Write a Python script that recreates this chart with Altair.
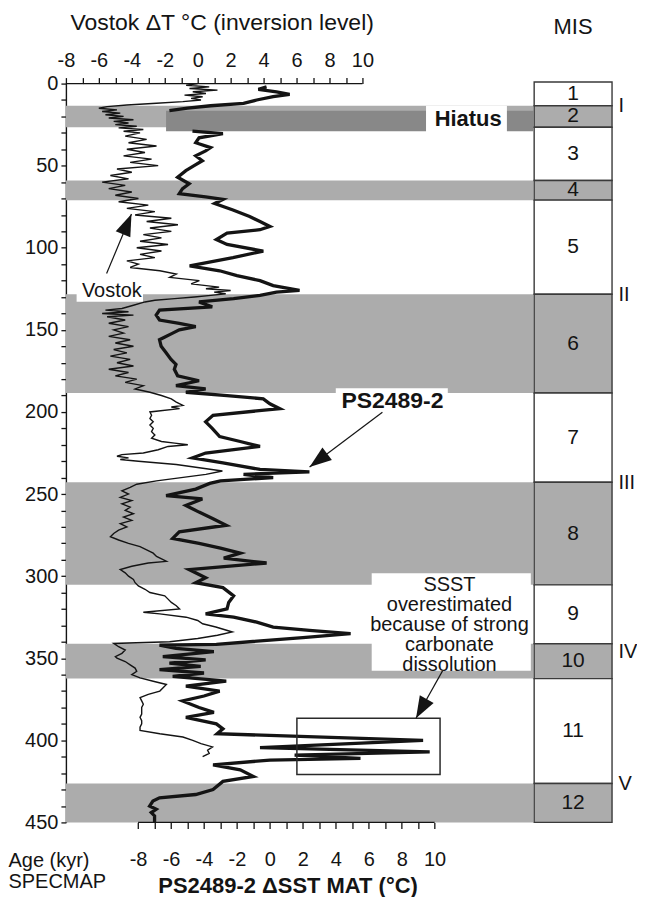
import math
import altair as alt
import pandas as pd

FONT = "Liberation Sans"
INK = "#141414"
BAND = "#acacac"
DARK = "#888888"

# ---------------- data ----------------
# Vostok dT (inversion level), deg C, against SPECMAP age (kyr)
vostok_age = [
    0, 1, 2, 3, 4, 5, 6, 7, 8, 9,
    10, 11, 12, 13, 14, 15, 16, 17, 18, 19,
    20, 21, 22, 23, 24, 25, 26, 27, 28, 29,
    30, 32, 34, 36, 38, 40, 42, 44, 46, 48,
    50, 52, 54, 56, 58, 60, 62, 64, 66, 68,
    70, 72, 74, 76, 78, 80, 82, 84, 86, 88,
    90, 92, 94, 96, 98, 100, 102, 104, 106, 108,
    110, 112, 114, 116, 118, 120, 122, 124, 125, 126,
    127, 128, 129, 130, 131, 132, 133, 135, 137, 138,
    139, 140, 141, 142, 144, 146, 148, 150, 152, 154,
    156, 158, 160, 162, 164, 166, 168, 170, 172, 174,
    176, 178, 180, 182, 184, 186, 188, 190, 192, 194,
    196, 197, 198, 200, 202, 204, 206, 208, 210, 212,
    214, 216, 218, 219, 220, 221, 223, 225, 226, 227,
    228, 229, 230, 232, 234, 236, 238, 240, 242, 244,
    246, 248, 250, 252, 254, 256, 258, 260, 262, 264,
    266, 268, 270, 272, 274, 276, 278, 280, 282, 284,
    286, 288, 290, 291, 292, 294, 296, 298, 300, 302,
    304, 306, 308, 310, 312, 314, 316, 318, 320, 322,
    323, 325, 327, 329, 331, 334, 336, 338, 340, 341,
    343, 345, 347, 349, 350, 352, 354, 356, 358, 360,
    362, 364, 366, 368, 370, 372, 374, 376, 378, 380,
    382, 384, 386, 388, 390, 392, 394, 396, 398, 400,
    402, 404, 406, 408, 410,
]
vostok_dt = [
    0.0, -0.7, 0.7, -0.5, 1.2, -0.3, 0.5, -0.8, 0.3, -0.4,
    0.2, -0.9, -2.5, -4.3, -5.5, -6.0, -4.9, -5.8, -4.7, -5.6,
    -4.5, -5.4, -3.9, -5.1, -4.2, -5.0, -3.7, -4.8, -3.3, -4.5,
    -3.5, -4.4, -3.1, -4.2, -2.5, -4.3, -3.2, -4.5, -2.8, -4.1,
    -2.4, -4.9, -4.0, -5.3, -4.2, -5.8, -4.4, -5.4, -4.0, -5.0,
    -3.6, -4.8, -3.0, -4.3, -2.6, -3.8, -1.6, -3.1, -1.2, -2.9,
    -1.6, -3.3, -2.2, -3.5, -1.8, -3.7, -2.2, -3.5, -2.6, -4.3,
    -3.6, -4.1, -2.3, -1.3, -1.7, 0.1, -0.4, 1.3, 0.5, 2.0,
    1.0, 1.7, 0.8, -0.2, -1.4, -2.6, -3.2, -3.9, -4.6, -5.6,
    -4.2, -5.8, -3.9, -5.5, -4.4, -5.4, -4.2, -5.1, -4.5, -5.4,
    -4.1, -5.0, -3.9, -5.1, -4.3, -5.3, -4.1, -4.9, -3.9, -5.4,
    -4.2, -5.0, -3.7, -4.4, -3.3, -3.8, -2.9, -2.2, -1.6, -1.3,
    -0.9, -1.6, -1.1, -2.9, -2.8, -2.9, -2.7, -2.9, -2.7, -2.8,
    -2.6, -2.8, -2.2, -1.4, -0.6, -1.8, -2.4, -3.3, -4.6, -4.9,
    -4.2, -4.7, -3.6, -1.3, 0.1, 1.5, 0.5, -1.0, -2.5, -3.7,
    -4.1, -4.6, -4.2, -4.7, -4.0, -4.6, -4.1, -4.4, -3.9, -4.5,
    -4.0, -4.7, -4.3, -4.8, -5.1, -5.3, -4.8, -4.2, -3.5, -3.1,
    -2.7, -2.5, -2.1, -1.9, -3.0, -4.0, -4.7, -4.4, -4.2, -3.9,
    -3.8, -3.6, -3.2, -2.9, -2.0, -1.8, -1.6, -1.3, -1.1, -3.3,
    -2.3, -0.7, 0.0, 0.3, 1.1, 2.1, 1.2, 0.0, -1.7, -5.1,
    -4.8, -4.4, -4.6, -5.0, -4.9, -4.4, -4.1, -3.8, -3.7, -4.0,
    -3.5, -2.7, -1.9, -2.1, -2.3, -3.0, -3.5, -3.4, -3.3, -3.4,
    -3.4, -3.4, -3.5, -3.4, -3.4, -3.5, -3.5, -2.3, -0.9, -0.3,
    0.2, 0.9, 0.6, 0.7, 0.3,
]

# PS2489-2 dSST (MAT), deg C, against SPECMAP age (kyr); no samples in the hiatus
ps_age = [
    2, 3.5, 5, 6.5, 8, 10, 12, 13.5, 15, 16.5,
    29, 30.5, 33, 36, 39, 41, 44, 47, 50, 53,
    57, 61, 64, 67, 69, 70.5, 73, 77, 81, 84,
    87, 89, 91, 95, 98, 102, 106, 111, 114, 117,
    120, 123, 126, 127, 129, 131, 133, 136, 138, 141,
    144, 146, 148, 150, 152, 156, 160, 164, 168, 171,
    174, 178, 181, 184, 186, 188, 190, 192, 195, 198,
    202, 206, 210, 215, 218, 221, 225, 228, 231, 235,
    236.5, 238, 240, 242, 243.5, 247, 251, 253, 257, 261,
    265, 269, 273, 277, 280, 283, 286, 289, 292, 296,
    301, 304, 307, 312, 316, 320, 323, 325, 328, 331,
    333, 335, 337.5, 341.5, 342, 344, 346, 349, 351, 353,
    355, 357, 359, 361, 364, 367, 370, 373, 376, 380,
    383, 386, 390, 393, 396, 400, 404.5, 407, 409, 411,
    412, 415, 418, 422, 425, 430, 433, 435, 437, 440,
    442, 444, 446, 450,
]
ps_sst = [
    -0.2, -0.7, 0.4, 1.2, 0.2, -0.8, -1.6, -3.6, -5.0, -6.1,
    -4.7, -2.85, -4.3, -4.5, -3.6, -3.9, -4.5, -4.1, -4.6, -5.1,
    -5.6, -4.9, -5.3, -5.5, -3.9, -2.85, -3.35, -2.24, -1.23, -0.6,
    0.0, -0.6, -2.6, -3.25, -2.6, -0.4, -2.24, -4.87, -3.05, -2.0,
    -0.6, 0.2, 1.8, 0.4, -0.6, -2.2, -4.3, -3.5, -6.7, -6.9,
    -6.7, -5.5, -4.5, -5.5, -5.9, -6.7, -6.6, -6.3, -6.0, -5.7,
    -5.8, -5.6, -4.3, -5.7, -3.9, -5.1, -2.6, -0.4, 0.0, 0.6,
    -3.45, -3.9, -3.5, -3.05, -1.8, -0.6, -3.9, -4.7, -2.85, -0.6,
    2.4, -1.6, 0.2, -3.0, -3.65, -4.5, -6.3, -4.1, -5.1, -4.3,
    -3.45, -2.65, -5.5, -5.9, -4.3, -3.0, -1.8, -2.8, -0.2, -4.9,
    -3.9, -4.5, -2.85, -2.2, -2.5, -2.6, -3.9, -2.2, -0.8, 0.2,
    2.4, 4.9, 2.0, -3.25, -6.7, -5.7, -3.4, -6.5, -3.9, -6.1,
    -4.2, -6.7, -4.0, -5.9, -2.65, -5.1, -3.05, -4.0, -5.3, -4.3,
    -3.4, -5.1, -3.25, -2.85, -3.2, 9.3, -0.6, 9.7, 1.5, 5.5,
    0.0, -3.45, -1.8, -1.0, -2.85, -3.45, -4.5, -6.7, -7.1, -7.3,
    -6.9, -7.2, -7.0, -7.0,
]
hiatus_ages = [16.5, 29.0]

# Marine isotope stages (SPECMAP boundaries, kyr)
mis_stage = [1, 2, 3, 4, 5, 6, 7, 8, 9, 10, 11, 12]
mis_top = [-1.0, 13.5, 26.6, 59.0, 71.0, 128.3, 188.5, 242.8, 305.3, 341.2, 362.4, 426.3]
mis_bottom = [13.5, 26.6, 59.0, 71.0, 128.3, 188.5, 242.8, 305.3, 341.2, 362.4, 426.3, 450.0]
term_names = ["I", "II", "III", "IV", "V"]
term_age = [13.5, 128.3, 242.8, 346.0, 426.3]

assert len(vostok_age) == len(vostok_dt)
assert len(ps_age) == len(ps_sst)

# ---------------- layout ----------------
W, H, MIS_W = 468, 740, 78
PX_UNIT = 16.5
PX_KYR = H / 450.0
top_lo = -8.0
top_hi = top_lo + W / PX_UNIT
bot_lo = -8.0 - 72.3 / PX_UNIT
bot_hi = bot_lo + W / PX_UNIT

ysc = alt.Scale(domain=[0, 450], reverse=True, nice=False, zero=False)
xt = alt.Scale(domain=[top_lo, top_hi], nice=False, zero=False)
xb = alt.Scale(domain=[bot_lo, bot_hi], nice=False, zero=False)
TICKS = list(range(-8, 11))
EVEN = "datum.value % 2 == 0 ? '' + datum.value : ''"

Y_AXIS = alt.Axis(
    orient="left",
    values=list(range(0, 451, 10)), labelExpr="datum.value % 50 == 0 ? '' + datum.value : ''",
    tickSize=5, tickWidth=1.3, domainWidth=1.4, grid=False, labelFontSize=20, labelPadding=3,
    labelOverlap=False, labelFlush=False,
    title=["Age (kyr)", "SPECMAP"], titleAngle=0, titleAlign="left", titleBaseline="top",
    titleX=-58, titleY=768, titleFontSize=20, titleFontWeight="normal", titleLineHeight=21)


def yq(f):
    # every layer carries the identical y axis so the shared axis merges cleanly
    return alt.Y(f, type="quantitative", scale=ysc, axis=Y_AXIS)


def xq(f, sc):
    return alt.X(f, type="quantitative", scale=sc, axis=None)


def ang(x0, a0, x1, a1):
    dx = (x1 - x0) * PX_UNIT
    dy = (a1 - a0) * PX_KYR
    return math.degrees(math.atan2(dx, -dy)) % 360


ARROW = "M0,0L0.36,1L-0.36,1Z"

vos = pd.DataFrame({"age": vostok_age, "dt": vostok_dt})
ps = pd.DataFrame({"age": ps_age, "sst": ps_sst})
ps["seg"] = (ps["age"] > hiatus_ages[0]).astype(int)
mis = pd.DataFrame({"stage": mis_stage, "top": mis_top, "bottom": mis_bottom})
mis["label"] = mis["stage"].astype(str)
mis["mid"] = (mis["top"] + mis["bottom"]) / 2
mis["glacial"] = mis["stage"] % 2 == 0
bands_df = mis[mis["glacial"]]

# ---------- Vostok scale (top axis) ----------
bands = alt.Chart(bands_df).mark_rect(color=BAND).encode(
    x=alt.value(0), x2=alt.value(W), y=yq("top"), y2="bottom:Q")

hiatus_bar = alt.Chart(pd.DataFrame({"x0": [-1.92], "x1": [top_hi], "a0": [hiatus_ages[0]], "a1": [hiatus_ages[1]]})).mark_rect(
    color=DARK).encode(x=xq("x0", xt), x2="x1:Q", y=yq("a0"), y2="a1:Q")
white_top = alt.Chart(pd.DataFrame({"x0": [13.86, -7.35], "x1": [18.77, -3.32], "a0": [13.5, 119.8], "a1": [29.6, 132.9]})).mark_rect(
    color="white").encode(x=xq("x0", xt), x2="x1:Q", y=yq("a0"), y2="a1:Q")
hiatus_txt = alt.Chart(pd.DataFrame({"x": [16.42], "a": [21.4], "t": ["Hiatus"]})).mark_text(
    font=FONT, fontSize=22, fontWeight="bold", color=INK).encode(x=xq("x", xt), y=yq("a"), text="t:N")

vostok_line = alt.Chart(vos).mark_line(color=INK, strokeWidth=1.4).encode(
    x=alt.X("dt:Q", scale=xt, axis=alt.Axis(
        orient="top", values=TICKS, labelExpr=EVEN, domain=False, grid=False,
        tickSize=6, tickWidth=1.3, labelFontSize=20, labelPadding=7, labelFlush=False, labelOverlap=False,
        title="Vostok \u0394T \u00b0C (inversion level)", titleFontSize=23, titleFontWeight="normal",
        titleX=156, titleY=-61, titleAlign="center", titleBaseline="middle")),
    y=yq("age"),
    order="age:Q")

vostok_txt = alt.Chart(pd.DataFrame({"x": [-5.21], "a": [126.4], "t": ["Vostok"]})).mark_text(
    font=FONT, fontSize=20, color=INK).encode(x=xq("x", xt), y=yq("a"), text="t:N")

va = dict(x0=-5.53, a0=115.7, x1=-4.02, a1=79.4)
v_arrow_line = alt.Chart(pd.DataFrame({k: [v] for k, v in va.items()})).mark_rule(
    color=INK, strokeWidth=1.2).encode(x=xq("x0", xt), x2="x1:Q", y=yq("a0"), y2="a1:Q")
v_arrow_head = alt.Chart(pd.DataFrame({"x": [va["x1"]], "a": [va["a1"]], "ang": [ang(**va)]})).mark_point(
    shape=ARROW, filled=True, size=1936, color=INK, opacity=1).encode(
    x=xq("x", xt), y=yq("a"), angle=alt.Angle("ang:Q", scale=None))

top_axis_line = alt.Chart(pd.DataFrame({"x0": [-8], "x1": [10], "a": [0]})).mark_rule(
    color=INK, strokeWidth=1.4).encode(x=xq("x0", xt), x2="x1:Q", y=yq("a"))

# ---------- PS2489-2 scale (bottom axis) ----------
ps_line = alt.Chart(ps).mark_line(color=INK, strokeWidth=3.3).encode(
    x=alt.X("sst:Q", scale=xb, axis=alt.Axis(
        orient="bottom", values=TICKS, labelExpr=EVEN, domain=False, grid=False,
        tickSize=6, tickWidth=1.3, labelFontSize=20, labelPadding=21, labelFlush=False, labelOverlap=False,
        title="PS2489-2 \u0394SST MAT (\u00b0C)", titleFontSize=22, titleFontWeight="bold",
        titleX=222, titleY=63, titleAlign="center", titleBaseline="middle")),
    y=yq("age"), detail="seg:N", order="age:Q")

white_bot = alt.Chart(pd.DataFrame({"x0": [4.0, 6.18], "x1": [10.8, 15.84], "a0": [185.5, 298.2], "a1": [201.0, 357.7]})).mark_rect(
    color="white").encode(x=xq("x0", xb), x2="x1:Q", y=yq("a0"), y2="a1:Q")
ps_txt = alt.Chart(pd.DataFrame({"x": [7.44], "a": [193.6], "t": ["PS2489-2"]})).mark_text(
    font=FONT, fontSize=23, fontWeight="bold", color=INK).encode(x=xq("x", xb), y=yq("a"), text="t:N")
ssst_txt = alt.Chart(pd.DataFrame({"x": [10.9], "a": [305.3],
                                   "t": ["SSST\noverestimated\nbecause of strong\ncarbonate\ndissolution"]})).mark_text(
    font=FONT, fontSize=20, color=INK, lineBreak="\n", lineHeight=20, baseline="middle").encode(
    x=xq("x", xb), y=yq("a"), text="t:N")
frame = alt.Chart(pd.DataFrame({"x0": [1.64], "x1": [10.33], "a0": [386.6], "a1": [420.8]})).mark_rect(
    fillOpacity=0, stroke="#2a2a2a", strokeWidth=1.5).encode(x=xq("x0", xb), x2="x1:Q", y=yq("a0"), y2="a1:Q")

pa = dict(x0=6.83, a0=200.2, x1=2.41, a1=233.5)
sa = dict(x0=10.48, a0=357.7, x1=8.87, a1=386.6)
arrows_b = pd.DataFrame({"x0": [pa["x0"], sa["x0"]], "a0": [pa["a0"], sa["a0"]],
                         "x1": [pa["x1"], sa["x1"]], "a1": [pa["a1"], sa["a1"]],
                         "ang": [ang(**pa), ang(**sa)]})
b_arrow_line = alt.Chart(arrows_b).mark_rule(color=INK, strokeWidth=1.2).encode(
    x=xq("x0", xb), x2="x1:Q", y=yq("a0"), y2="a1:Q")
b_arrow_head = alt.Chart(arrows_b).mark_point(shape=ARROW, filled=True, size=1936, color=INK, opacity=1).encode(
    x=xq("x1", xb), y=yq("a1"), angle=alt.Angle("ang:Q", scale=None))

bot_axis_line = alt.Chart(pd.DataFrame({"x0": [-8], "x1": [10], "a": [450]})).mark_rule(
    color=INK, strokeWidth=1.4).encode(x=xq("x0", xb), x2="x1:Q", y=yq("a"))

left = alt.layer(
    bands, hiatus_bar, white_top, hiatus_txt, vostok_line, vostok_txt, v_arrow_line, v_arrow_head,
    top_axis_line, ps_line, white_bot, ps_txt, ssst_txt, frame, b_arrow_line, b_arrow_head, bot_axis_line,
).resolve_scale(x="independent").properties(width=W, height=H)

# ---------- MIS column ----------
roman = ("datum.value < 60 ? 'I' : datum.value < 200 ? 'II' : datum.value < 300 ? 'III' : "
         "datum.value < 400 ? 'IV' : 'V'")
R_AXIS = alt.Axis(
    orient="right", values=term_age, labelExpr=roman, domain=False, ticks=False, grid=False,
    labelFontSize=20, labelPadding=6, labelOverlap=False, labelFlush=False, title=None)
mis_boxes = alt.Chart(mis).mark_rect(stroke="#3a3a3a", strokeWidth=1.4).encode(
    x=alt.value(0), x2=alt.value(MIS_W),
    y=alt.Y("top:Q", scale=ysc, axis=R_AXIS),
    y2="bottom:Q",
    fill=alt.condition("datum.glacial", alt.value(BAND), alt.value("white")))
mis_nums = alt.Chart(mis).mark_text(font=FONT, fontSize=21, color=INK).encode(
    x=alt.value(MIS_W / 2), y=alt.Y("mid:Q", scale=ysc, axis=R_AXIS), text="label:N")
mis_chart = alt.layer(mis_boxes, mis_nums).properties(
    width=MIS_W, height=H,
    title=alt.TitleParams("MIS", font=FONT, fontSize=22, fontWeight="normal", color=INK, anchor="middle", offset=42))

chart = alt.hconcat(left, mis_chart, spacing=0).properties(
    padding={"left": 0, "right": 0, "top": 3, "bottom": 0}
).configure_view(stroke=None).configure_axis(
    labelFont=FONT, titleFont=FONT, labelColor=INK, titleColor=INK, tickColor=INK, domainColor=INK
).configure_title(font=FONT, color=INK)

chart.save("out.html", embed_options={"renderer": "svg", "actions": False})
